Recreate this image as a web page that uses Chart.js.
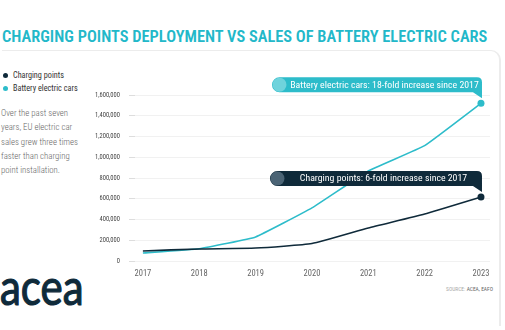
<!DOCTYPE html>
<html>
<head>
<meta charset="utf-8">
<script src="https://cdn.jsdelivr.net/npm/chart.js@4.4.1/dist/chart.umd.min.js"></script>
<style>
  html, body { margin: 0; padding: 0; background: #fff; }
  body { width: 505px; height: 330px; position: relative; overflow: hidden;
         font-family: "Roboto Condensed", "Liberation Sans Narrow", "DejaVu Sans Condensed", sans-serif; }
  #panel { position: absolute; left: 2px; top: 50px; width: 497px; height: 275px;
           border-top: 1px solid #ececec; border-right: 2px solid #ececec; border-radius: 0 10px 0 0; }
  #title { position: absolute; left: 2px; top: 27px; font-size: 16.4px; font-weight: 600;
           color: #22b8c9; white-space: nowrap; }
  .leg { position: absolute; left: 3px; font-size: 8.2px; color: #333; white-space: nowrap; }
  .leg i { display: inline-block; width: 5px; height: 5px; border-radius: 50%; margin-right: 5px; vertical-align: 0px; }
  #note { position: absolute; left: 1px; top: 106px; font-size: 8.8px; line-height: 14.3px; color: #666; font-weight: 300; }
  #logo { position: absolute; left: 0px; top: 261px; font-family: Lato, "Open Sans", sans-serif;
          font-size: 50px; line-height: 1; font-weight: 400; color: #0f2a3a;
          -webkit-text-stroke: 1.2px #0f2a3a; transform: scaleX(0.84); transform-origin: 0 0; }
  #src { position: absolute; right: 12px; top: 286px; font-size: 5.5px; color: #aaa; }
  #src b { color: #666; font-weight: normal; }
  #wrap { position: absolute; left: 0; top: 0; width: 505px; height: 330px; }
</style>
</head>
<body>
<div id="panel"></div>
<div id="title">CHARGING POINTS DEPLOYMENT VS SALES OF BATTERY ELECTRIC CARS</div>
<div class="leg" style="top:70px"><i style="background:#0f2a3a"></i>Charging points</div>
<div class="leg" style="top:83px"><i style="background:#2dbcca"></i>Battery electric cars</div>
<div id="note">Over the past seven<br>years, EU electric car<br>sales grew three times<br>faster than charging<br>point installation.</div>
<div id="logo">acea</div>
<div id="src">SOURCE: <b>ACEA, EAFO</b></div>
<div id="wrap"><canvas id="c" width="505" height="330"></canvas></div>
<script>
// ---- data ----
const years = [2017, 2018, 2019, 2020, 2021, 2022, 2023];
const chargingPoints = [97000, 116000, 125000, 168000, 318000, 453000, 617000];
const batteryCars = [77000, 118000, 232000, 512000, 868000, 1112000, 1520000];
const yTicks = [0, 200000, 400000, 600000, 800000, 1000000, 1200000, 1400000, 1600000];
const notes = [
  'Charging points: 6-fold increase since 2017',
  'Battery electric cars: 18-fold increase since 2017'
];

const DARK = '#0f2a3a';
const CYAN = '#2dbcca';
const FONT = '"Roboto Condensed", "Liberation Sans Narrow", "DejaVu Sans Condensed", sans-serif';

// ---- callout pills anchored to last point of each line ----
const calloutPlugin = {
  id: 'callouts',
  afterDatasetsDraw(chart) {
    const ctx = chart.ctx;
    const styles = [
      { bg: DARK, dot: '#4b6475', w: 212 },
      { bg: CYAN, dot: '#6fd3dc', w: 210 }
    ];
    chart.data.datasets.forEach((ds, i) => {
      const meta = chart.getDatasetMeta(i);
      const pt = meta.data[meta.data.length - 1];
      const s = styles[i];
      const right = pt.x + 1, h = 15;
      const bottom = pt.y - 11, top = bottom - h, left = right - s.w;
      const r = h / 2;
      ctx.save();
      ctx.fillStyle = s.bg;
      ctx.beginPath();
      ctx.moveTo(left + r, top);
      ctx.lineTo(right - 5, top);
      ctx.quadraticCurveTo(right, top, right, top + 5);
      ctx.lineTo(right, pt.y - 5);
      ctx.lineTo(right - 9, bottom);
      ctx.lineTo(left + r, bottom);
      ctx.arc(left + r, top + r, r, Math.PI / 2, Math.PI * 1.5);
      ctx.closePath();
      ctx.fill();
      ctx.fillStyle = s.dot;
      ctx.beginPath();
      ctx.arc(left + r, top + r, r - 0.5, 0, Math.PI * 2);
      ctx.fill();
      ctx.fillStyle = '#fff';
      ctx.font = '9.8px ' + FONT;
      ctx.textAlign = 'center';
      ctx.textBaseline = 'middle';
      ctx.fillText(notes[i], (left + 2 * r + right) / 2, top + r + 0.5);
      ctx.restore();
    });
  }
};

const lastOnly = arr => arr.map((v, i) => i === arr.length - 1 ? 3.5 : 0);

new Chart(document.getElementById('c'), {
  type: 'line',
  data: {
    datasets: [
      {
        label: 'Charging points',
        data: years.map((y, i) => ({ x: y, y: chargingPoints[i] })),
        borderColor: DARK, backgroundColor: DARK,
        borderWidth: 1.6, tension: 0.15,
        pointRadius: lastOnly(chargingPoints), pointBorderWidth: 0
      },
      {
        label: 'Battery electric cars',
        data: years.map((y, i) => ({ x: y, y: batteryCars[i] })),
        borderColor: CYAN, backgroundColor: CYAN,
        borderWidth: 1.6, tension: 0.1,
        pointRadius: lastOnly(batteryCars), pointBorderWidth: 0
      }
    ]
  },
  options: {
    responsive: false,
    animation: false,
    layout: { padding: { top: 95, right: 15, bottom: 0, left: 0 } },
    plugins: { legend: { display: false }, tooltip: { enabled: false } },
    scales: {
      x: {
        type: 'linear',
        min: 2016.86, max: 2023.16,
        afterFit(scale) { scale.height = 69; },
        grid: { display: false },
        border: { display: false },
        ticks: {
          stepSize: 1, includeBounds: false, padding: 0,
          color: '#666', font: { family: FONT, size: 8.5 },
          callback: v => String(v)
        }
      },
      y: {
        min: 0, max: 1600000,
        afterFit(scale) { scale.width = 135; },
        afterBuildTicks(scale) { scale.ticks = yTicks.map(v => ({ value: v })); },
        border: { display: false },
        grid: { color: '#f1f1f1', lineWidth: 1, tickLength: 6, tickColor: '#ddd' },
        ticks: { padding: 9, color: '#444', font: { family: FONT, size: 6.5 } }
      }
    }
  },
  plugins: [calloutPlugin]
});
</script>
</body>
</html>
